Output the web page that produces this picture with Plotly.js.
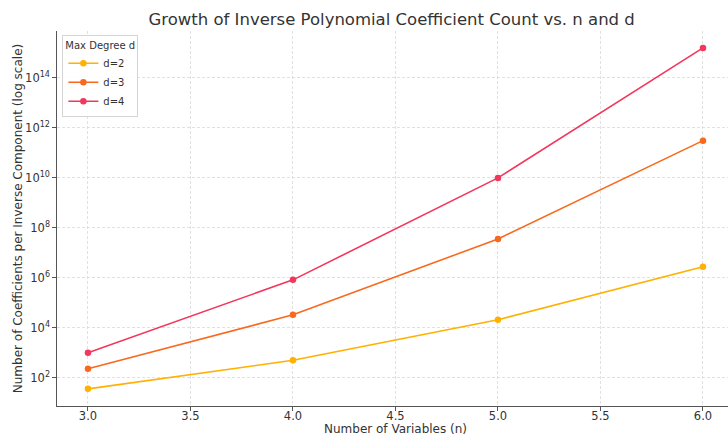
<!DOCTYPE html>
<html>
<head>
<meta charset="utf-8">
<script src="https://cdn.plot.ly/plotly-3.0.1.min.js"></script>
<style>html,body{margin:0;padding:0;background:#fff;overflow:hidden;}</style>
</head>
<body>
<div id="chart" style="width:728px;height:437px;"></div>
<script>
const nValues = [3, 4, 5, 6];
const seriesNames = ["d=2", "d=3", "d=4"];
const d2 = [36, 500, 21000, 2.8e6];
const d3 = [230, 33000, 3.6e7, 3.1e11];
const d4 = [1000, 830000, 1.0e10, 1.6e15];
const seriesColors = ["#ffb000", "#f8691e", "#f3365b"];
const yTickVals = [1e2, 1e4, 1e6, 1e8, 1e10, 1e12, 1e14];
const yTickText = ["10<sup>2</sup>", "10<sup>4</sup>", "10<sup>6</sup>", "10<sup>8</sup>", "10<sup>10</sup>", "10<sup>12</sup>", "10<sup>14</sup>"];

const allSeries = [d2, d3, d4];
const traces = allSeries.map((vals, i) => ({
  x: nValues,
  y: vals,
  name: seriesNames[i],
  type: "scatter",
  mode: "lines+markers",
  line: {color: seriesColors[i], width: 1.6},
  marker: {color: seriesColors[i], size: 6.5}
}));

const font = "DejaVu Sans, sans-serif";
const layout = {
  width: 728,
  height: 437,
  margin: {l: 57, r: 0, t: 31, b: 31},
  paper_bgcolor: "#fff",
  plot_bgcolor: "#fff",
  font: {family: font, color: "#333", size: 12},
  title: {text: "Growth of Inverse Polynomial Coefficient Count vs. n and d",
          font: {family: font, size: 16.5, color: "#333"},
          x: 0.538, xanchor: "center", y: 0.955, yanchor: "middle"},
  xaxis: {
    range: [2.849, 6.122],
    dtick: 0.5, tick0: 3, tickformat: ".1f",
    showgrid: true, gridcolor: "#dadada", griddash: "3px,2px", gridwidth: 0.8,
    zeroline: false,
    showline: true, linecolor: "#555", linewidth: 1.2,
    ticks: "outside", ticklen: 3.5, tickcolor: "#555", ticklabelstandoff: -5,
    tickfont: {family: font, size: 11.5, color: "#333"},
    automargin: false
  },
  yaxis: {
    type: "log",
    range: [0.87, 15.88],
    tickvals: yTickVals, ticktext: yTickText,
    showgrid: true, gridcolor: "#dadada", griddash: "3px,2px", gridwidth: 0.8,
    zeroline: false,
    showline: true, linecolor: "#555", linewidth: 1.2,
    ticks: "outside", ticklen: 3.5, tickcolor: "#555",
    tickfont: {family: font, size: 11.5, color: "#333"},
    automargin: false,
    title: {text: "Number of Coefficients per Inverse Component (log scale)", font: {family: font, size: 12, color: "#333"}, standoff: 0}
  },
  annotations: [{
    text: "Number of Variables (n)", xref: "paper", yref: "paper",
    x: 0.504, y: -0.061, xanchor: "center", yanchor: "middle", showarrow: false,
    font: {family: font, size: 12, color: "#333"}
  }],
  showlegend: true,
  legend: {
    x: 0.008, y: 0.99, xanchor: "left", yanchor: "top",
    bgcolor: "rgba(255,255,255,0.9)", bordercolor: "#d5d5d5", borderwidth: 1,
    font: {family: font, size: 10, color: "#333"},
    title: {text: "Max Degree d", font: {family: font, size: 10, color: "#333"}, side: "top"},
    itemwidth: 30, tracegroupgap: 0
  }
};

Plotly.newPlot("chart", traces, layout, {displayModeBar: false, staticPlot: true});
</script>
</body>
</html>
